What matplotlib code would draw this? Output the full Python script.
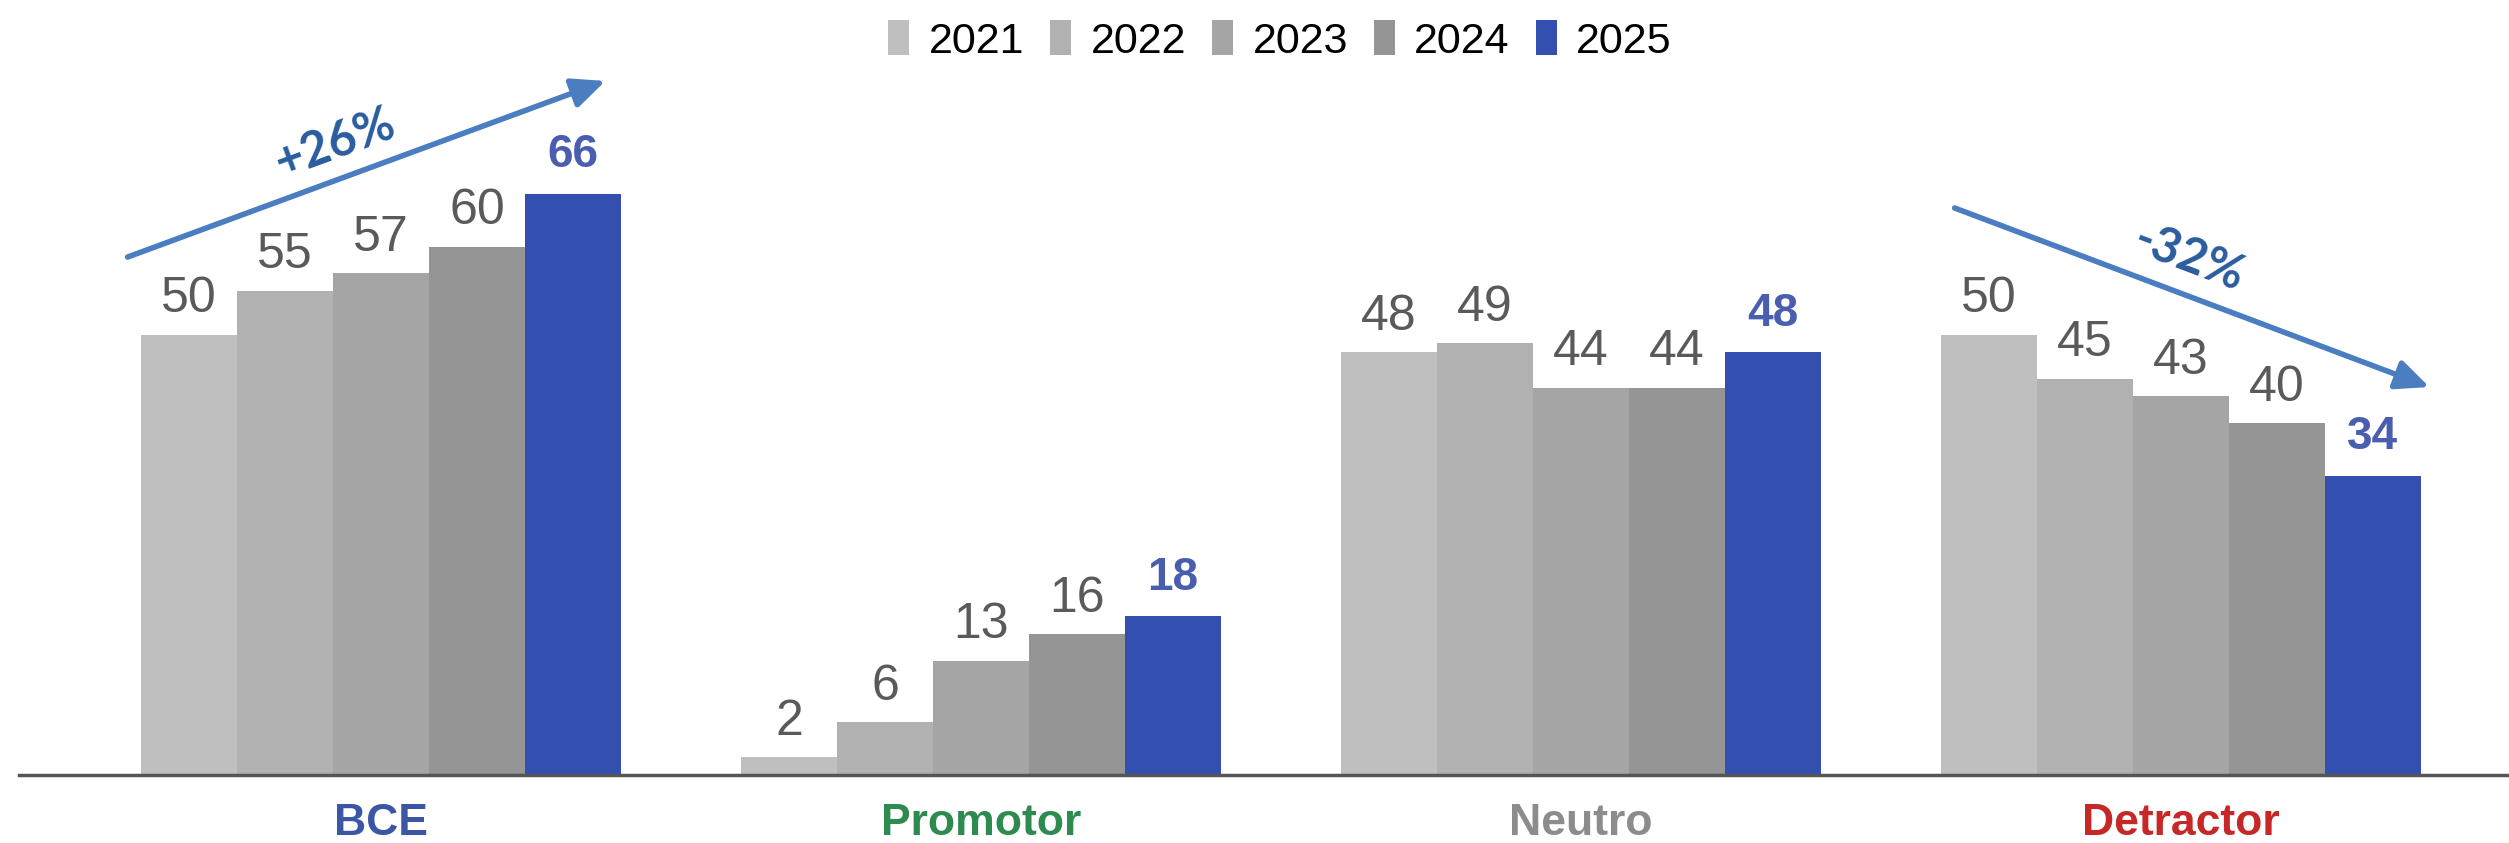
import matplotlib
matplotlib.use("Agg")
import matplotlib.pyplot as plt
from matplotlib.patches import Patch, FancyArrowPatch
import numpy as np

plt.rcParams['font.family'] = ['Liberation Sans', 'DejaVu Sans']

categories = ["BCE", "Promotor", "Neutro", "Detractor"]
years = ["2021", "2022", "2023", "2024", "2025"]
values = {
    "2021": [50, 2, 48, 50],
    "2022": [55, 6, 49, 45],
    "2023": [57, 13, 44, 43],
    "2024": [60, 16, 44, 40],
    "2025": [66, 18, 48, 34],
}
bar_colors = ["#BFBFBF", "#B1B1B1", "#A5A5A5", "#959595", "#3350B0"]
cat_colors = ["#3A56A5", "#2E8B50", "#8C8C8C", "#C62828"]
trend_labels = {"BCE": "+26%", "Detractor": "-32%"}

W, H = 2509, 843
fig = plt.figure(figsize=(W / 100, H / 100), dpi=100)
ax = fig.add_axes([19 / W, 68 / H, 1 - 19 / W, 775 / H])
ax.set_xlim(-0.6033, 3.5467)
ax.set_ylim(0, 88)

x = np.arange(len(categories))
bw = 0.16
for i, yr in enumerate(years):
    pos = x + (i - 2) * bw
    ax.bar(pos, values[yr], width=bw, color=bar_colors[i], edgecolor='none', zorder=2)
    for p, v in zip(pos, values[yr]):
        if yr == "2025":
            ax.annotate(str(v), (p, v), xytext=(0, 19), textcoords='offset points',
                        ha='center', va='baseline', fontsize=33, fontweight='bold', color='#4A5EB0')
        else:
            ax.annotate(str(v), (p, v), xytext=(0, 16), textcoords='offset points',
                        ha='center', va='baseline', fontsize=36, color='#5A5A5A')

for s in ["top", "right", "left"]:
    ax.spines[s].set_visible(False)
ax.spines["bottom"].set_color("#555555")
ax.spines["bottom"].set_linewidth(2.5)
ax.set_yticks([])
ax.set_xticks(x)
ax.set_xticklabels(categories, fontsize=32, fontweight='bold')
for lbl, c in zip(ax.get_xticklabels(), cat_colors):
    lbl.set_color(c)
ax.tick_params(axis='x', length=0, pad=20)

# trend arrows (figure pixel coordinates)
def fpx(px, py):
    return (px / W, 1 - py / H)

arrow_col = "#4A7EC0"
for p0, p1 in [((125, 258), (608, 80)), ((1952, 207), (2432, 388))]:
    fig.patches.append(FancyArrowPatch(
        fpx(*p0), fpx(*p1), transform=fig.transFigure,
        arrowstyle='-|>,head_length=20,head_width=9', color=arrow_col, lw=4, mutation_scale=1))

fig.text(*fpx(335, 143), trend_labels["BCE"], rotation=20, ha='center', va='center',
         fontsize=35, fontweight='bold', color='#2B5C9E', family=['Lato', 'DejaVu Sans'])
fig.text(*fpx(2189, 258), trend_labels["Detractor"], rotation=-21, ha='center', va='center',
         fontsize=35, fontweight='bold', color='#2B5C9E', family=['Lato', 'DejaVu Sans'])

handles = [Patch(facecolor=c, edgecolor='none', label=y) for c, y in zip(bar_colors, years)]
fig.legend(handles=handles, loc='center', bbox_to_anchor=(1280 / W, 1 - 41 / H), ncol=5,
           frameon=False, fontsize=31, handlelength=0.49, handleheight=0.88,
           handletextpad=0.45, columnspacing=0.6)

fig.savefig("out.png", dpi=100)
